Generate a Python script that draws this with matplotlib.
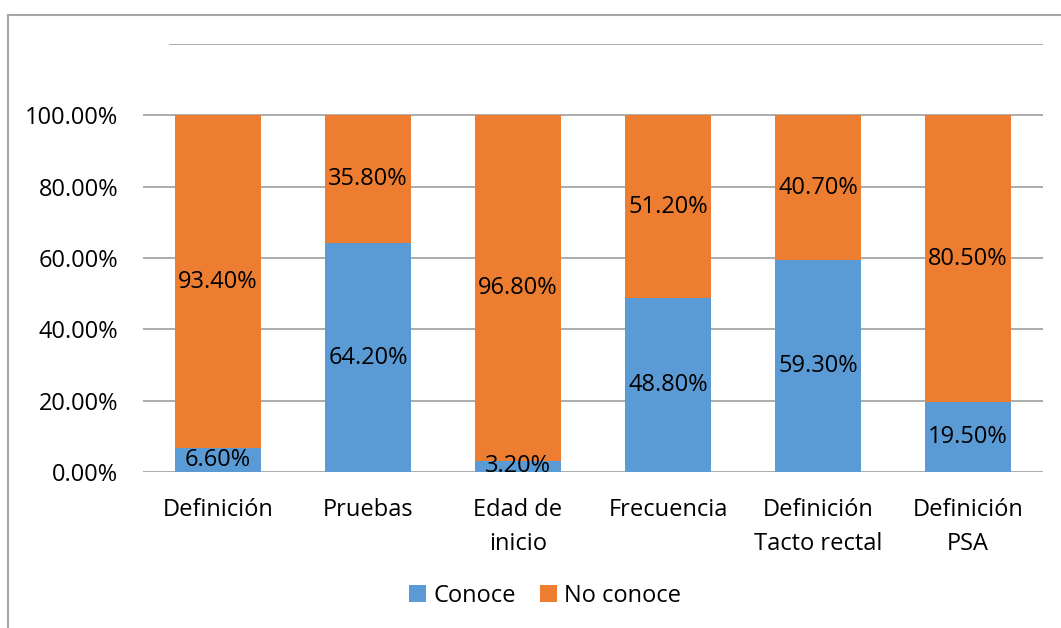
import matplotlib.pyplot as plt
from matplotlib.lines import Line2D

# Datos
categorias = ['Definición', 'Pruebas', 'Edad de\ninicio', 'Frecuencia',
              'Definición\nTacto rectal', 'Definición\nPSA']
conoce = [6.6, 64.2, 3.2, 48.8, 59.3, 19.5]
no_conoce = [93.4, 35.8, 96.8, 51.2, 40.7, 80.5]
yticks = [0, 20, 40, 60, 80, 100]

azul = '#5B9BD5'
naranja = '#ED7D31'
gris = '#A6A6A6'
fs = 17

plt.rcParams['font.family'] = ['Open Sans', 'DejaVu Sans']

fig = plt.figure(figsize=(10.61, 6.28), dpi=100)
ax = fig.add_axes([143 / 1061, 1 - 472 / 628, 900 / 1061, 428 / 628])

x = range(len(categorias))
b1 = ax.bar(x, conoce, width=0.573, color=azul, label='Conoce', zorder=2)
b2 = ax.bar(x, no_conoce, width=0.573, bottom=conoce, color=naranja, label='No conoce', zorder=2)

# Etiquetas de los valores en el centro de cada segmento
for i in x:
    ax.text(i, conoce[i] / 2, f'{conoce[i]:.2f}%', ha='center', va='center', fontsize=fs, color='black', zorder=3)
    ax.text(i, conoce[i] + no_conoce[i] / 2, f'{no_conoce[i]:.2f}%', ha='center', va='center', fontsize=fs, color='black', zorder=3)

ax.set_xlim(-0.5, len(categorias) - 0.5)
ax.set_ylim(0, 120)
ax.set_yticks(yticks)
ax.set_yticklabels([f'{v:.2f}%' for v in yticks])
ax.set_xticks(list(x))
ax.set_xticklabels(categorias, linespacing=1.55)
ax.tick_params(axis='both', length=0, labelsize=fs)
ax.tick_params(axis='y', pad=18)
ax.tick_params(axis='x', pad=19)

# Lineas de cuadricula
for v in yticks:
    ax.axhline(v, color=gris, linewidth=1.3, zorder=1)
ax.axhline(120, xmin=27 / 900, xmax=1, color=gris, linewidth=1.3, zorder=1)

for s in ax.spines.values():
    s.set_visible(False)

# Leyenda abajo
fig.legend(handles=[b1, b2], labels=['Conoce', 'No conoce'], loc='center',
           bbox_to_anchor=(545 / 1061, 1 - 596 / 628), ncol=2, frameon=False,
           fontsize=fs, handlelength=0.75, handleheight=0.75, handletextpad=0.3,
           columnspacing=1.0)

# Marco de la figura (cortado a la derecha y abajo)
fig.add_artist(Line2D([8 / 1061, 1], [1 - 15 / 628, 1 - 15 / 628], transform=fig.transFigure, color=gris, linewidth=1.5))
fig.add_artist(Line2D([8 / 1061, 8 / 1061], [0, 1 - 15 / 628], transform=fig.transFigure, color=gris, linewidth=1.5))

fig.savefig('out.png', dpi=100)
